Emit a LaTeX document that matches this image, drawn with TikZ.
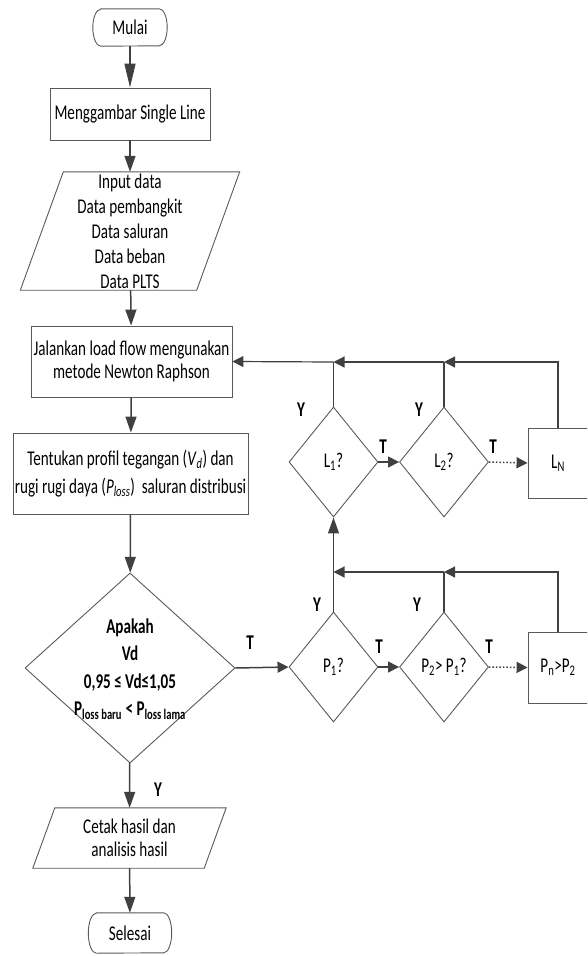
\documentclass[tikz,border=0pt]{standalone}
\usepackage{fontspec}
\setmainfont{Carlito}[FakeStretch=0.72]
\usetikzlibrary{arrows.meta,shapes.geometric}
\definecolor{edgec}{HTML}{404040}
\definecolor{borderc}{HTML}{595959}
\newcommand{\fsz}{\fontsize{21}{23}\selectfont}
\tikzset{
  shp/.style={draw=borderc, line width=0.9pt},
  box/.style={shp, rectangle, inner sep=0pt, align=center, font=\fsz},
  term/.style={rectangle, inner sep=0pt, font=\fsz},
  parabox/.style={rectangle, inner sep=0pt, align=center},
  dia/.style={shp, diamond, inner sep=0pt, font=\fsz, minimum width=89, minimum height=110},
  arrv/.style={draw=edgec, line width=1.5pt, -{Triangle[length=16pt,width=11pt]}},
  arrh/.style={draw=edgec, line width=1.5pt, -{Triangle[length=11pt,width=11pt]}},
  larrh/.style={draw=edgec, line width=1.2pt, -{Triangle[length=11pt,width=11pt]}},
  larrv/.style={draw=edgec, line width=1.2pt, -{Triangle[length=16pt,width=11pt]}},
  plain/.style={draw=edgec, line width=1.2pt},
  lab/.style={font=\fsz\bfseries, inner sep=0pt},
}
\newcommand{\termshape}[2]{% node name, corner x radius
  \draw[shp] ([xshift=#2pt]#1.north west) -- ([xshift=-#2pt]#1.north east)
    arc[start angle=90, end angle=-90, x radius=#2pt, y radius={0.5*\termh}]
    -- ([xshift=#2pt]#1.south west)
    arc[start angle=270, end angle=90, x radius=#2pt, y radius={0.5*\termh}] -- cycle;}
\begin{document}
\begin{tikzpicture}[x=1pt,y=-1pt]
\useasboundingbox (0,0) rectangle (587,956);
\clip (0,0) rectangle (587,956);

% main column
\node[term, minimum width=74, minimum height=37] (mulai) at (130,27.5) {Mulai};
\def\termh{37pt}\termshape{mulai}{8}
\node[box, minimum width=160, minimum height=52] (single) at (130,114) {Menggambar Single Line};
\node[parabox, minimum width=176, minimum height=118, font=\fontsize{21}{25}\selectfont] (input) at (130,231)
  {Input data\\Data pembangkit\\Data saluran\\Data beban\\Data PLTS};
\draw[shp] ([xshift=21.5pt]input.north west) -- ([xshift=21.5pt]input.north east)
  -- ([xshift=-21.5pt]input.south east) -- ([xshift=-21.5pt]input.south west) -- cycle;
\node[box, minimum width=201, minimum height=71] (lf) at (131.5,361.5)
  {Jalankan load flow mengunakan\\metode Newton Raphson};
\node[box, minimum width=235, minimum height=81, font=\fontsize{21}{28}\selectfont] (prof) at (130.5,473.5)
  {Tentukan profil tegangan (\textit{V}\textsubscript{\textit{d}}) dan\\
   rugi rugi daya (\textit{P}\textsubscript{\textit{loss}})\ \ saluran distribusi};
\node[shp, diamond, inner sep=0pt, minimum width=210, minimum height=190] (dec) at (130,668) {};
\node[align=center, inner sep=0pt, font=\fontsize{21}{27.5}\selectfont\bfseries] (dectext) at (130,669)
  {Apakah\\Vd\\0,95 ≤ Vd≤1,05\\P\textsubscript{loss baru} < P\textsubscript{loss lama}};
\node[parabox, minimum width=171, minimum height=60, font=\fsz] (cetak) at (129.5,838)
  {Cetak hasil dan\\analisis hasil};
\draw[shp] ([xshift=11pt]cetak.north west) -- ([xshift=11pt]cetak.north east)
  -- ([xshift=-11pt]cetak.south east) -- ([xshift=-11pt]cetak.south west) -- cycle;
\node[term, minimum width=83, minimum height=40] (selesai) at (130,933) {Selesai};
\def\termh{40pt}\termshape{selesai}{8}

% L row
\node[dia] (l1) at (333.5,462) {L\textsubscript{1}?};
\node[dia] (l2) at (444,462) {L\textsubscript{2}?};
\node[box, minimum width=60, minimum height=70] (ln) at (558,463) {L\textsubscript{N}};

% P row
\node[dia] (p1) at (333.5,667) {P\textsubscript{1}?};
\node[dia] (p2) at (444,667) {P\textsubscript{2}> P\textsubscript{1}?};
\node[box, minimum width=60, minimum height=71] (pn) at (558,667.5) {P\textsubscript{n}>P\textsubscript{2}};

% junction coordinates
\coordinate (lj1) at (333.5,362);
\coordinate (lj2) at (444,362);
\coordinate (pj1) at (333.5,572);
\coordinate (pj2) at (444,572);

% main connectors
\draw[draw=edgec, line width=1.5pt, -{Triangle[length=24pt,width=11pt]}] (mulai) -- (single);
\draw[arrv] (single) -- (input);
\draw[arrv] (input) -- (lf);
\draw[arrv] (lf) -- (prof);
\draw[arrv] (prof) -- (dec);
\draw[arrv] (dec) -- (cetak);
\draw[arrv] (cetak) -- (selesai);
\draw[arrh] (dec.east) -- (p1.west);
\draw[arrh] (p1.east) -- (p2.west);
\draw[arrh, dotted] (p2.east) -- (pn.west);
\draw[arrh] (l1.east) -- (l2.west);
\draw[arrh, dotted] (l2.east) -- (ln.west);

% P loop
\draw[larrh] (pn.north) |- (pj2);
\draw[larrh] (pj2) -- (pj1);
\draw[plain] (p2.north) -- (pj2);
\draw[larrv] (p1.north) -- (l1.south);

% L loop
\draw[larrh] (ln.north) |- (lj2);
\draw[larrh] (lj2) -- (lj1);
\draw[larrh] (lj1) -- (lf.east);
\draw[plain] (l2.north) -- (lj2);
\draw[plain] (l1.north) -- (lj1);

% labels
\node[lab] at (250,643) {T};
\node[lab] at (158,790) {Y};
\node[lab] at (301,410) {Y};
\node[lab] at (419,410) {Y};
\node[lab] at (383,447) {T};
\node[lab] at (493,447) {T};
\node[lab] at (317,605) {Y};
\node[lab] at (417,605) {Y};
\node[lab] at (379,647) {T};
\node[lab] at (489,647) {T};
\end{tikzpicture}
\end{document}
